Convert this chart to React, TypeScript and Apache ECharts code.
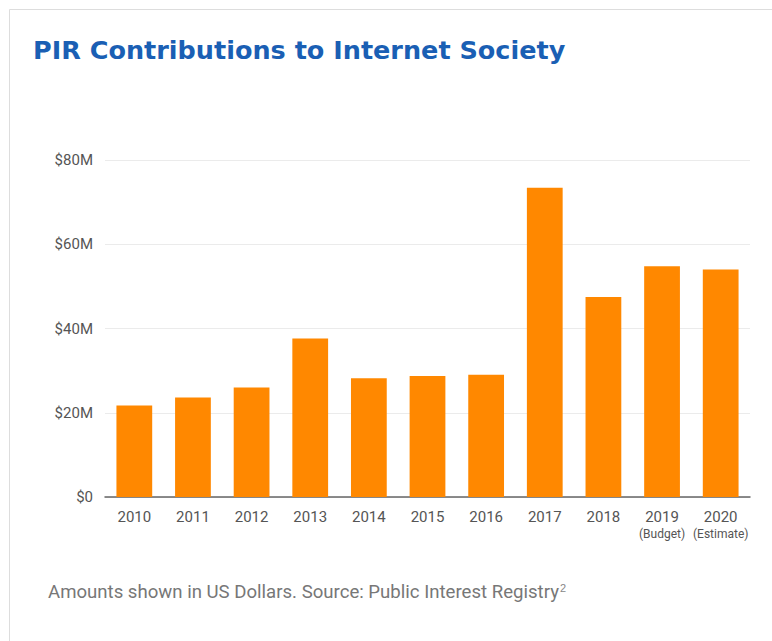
import React, { useEffect, useRef } from "react";
import * as echarts from "echarts";

const years = ["2010", "2011", "2012", "2013", "2014", "2015", "2016", "2017", "2018", "2019", "2020"];
const yearNotes = ["", "", "", "", "", "", "", "", "", "(Budget)", "(Estimate)"];
const contributionsM = [21.7, 23.6, 26.0, 37.6, 28.2, 28.7, 29.0, 73.4, 47.5, 54.8, 54.0];
const yTicks = [0, 20, 40, 60, 80];

const titleText = "PIR Contributions to Internet Society";
const footerText = "Amounts shown in US Dollars. Source: Public Interest Registry";

export default function App() {
  const ref = useRef<HTMLDivElement>(null);
  useEffect(() => {
    if (!ref.current) return;
    const chart = echarts.init(ref.current, undefined, { renderer: "svg" });
    const categories = years.map((y, i) => (yearNotes[i] ? `${y}\n{sub|${yearNotes[i]}}` : y));
    chart.setOption({
      animation: false,
      backgroundColor: "#ffffff",
      title: {
        text: titleText,
        left: 28,
        top: 32,
        textStyle: {
          fontFamily: "DejaVu Sans",
          fontWeight: 700,
          fontSize: 25.5,
          color: "#1a5fb4",
        },
      },
      graphic: [
        { type: "line", shape: { x1: 9.5, y1: 9.5, x2: 772, y2: 9.5 }, style: { stroke: "#dddddd", lineWidth: 1 } },
        { type: "line", shape: { x1: 9.5, y1: 9.5, x2: 9.5, y2: 641 }, style: { stroke: "#dddddd", lineWidth: 1 } },
        {
          type: "text",
          left: 48,
          top: 582,
          style: {
            text: `${footerText}{sup|2}`,
            rich: {
              sup: { fontSize: 11, verticalAlign: "top", padding: [0, 0, 9, 1], fill: "#888" },
            },
            font: "18.6px Roboto",
            fill: "#777777",
          } as any,
        },
      ],
      grid: { left: 105, right: 22, top: 160, bottom: 144, containLabel: false },
      xAxis: {
        type: "category",
        data: categories,
        axisLine: { lineStyle: { color: "#666666", width: 1.5 } },
        axisTick: { show: false },
        axisLabel: {
          fontFamily: "Roboto",
          fontSize: 15,
          color: "#555555",
          margin: 11,
          lineHeight: 17,
          interval: 0,
          rich: {
            sub: { fontFamily: "Roboto", fontSize: 12, color: "#555555", lineHeight: 17 },
          },
        },
      },
      yAxis: {
        type: "value",
        min: 0,
        max: yTicks[yTicks.length - 1],
        interval: yTicks[1] - yTicks[0],
        axisLine: { show: false },
        axisTick: { show: false },
        axisLabel: {
          fontFamily: "Roboto",
          fontSize: 15,
          color: "#555555",
          margin: 12,
          formatter: (v: number) => `$${v}${v === 0 ? "" : "M"}`,
        },
        splitLine: { lineStyle: { color: "#ebebeb", width: 1 } },
      },
      series: [
        {
          type: "bar",
          data: contributionsM,
          barWidth: "61%",
          itemStyle: { color: "#ff8800" },
        },
      ],
    });
    return () => chart.dispose();
  }, []);
  return <div ref={ref} style={{ position: "fixed", left: 0, top: 0, width: 772, height: 641 }} />;
}
